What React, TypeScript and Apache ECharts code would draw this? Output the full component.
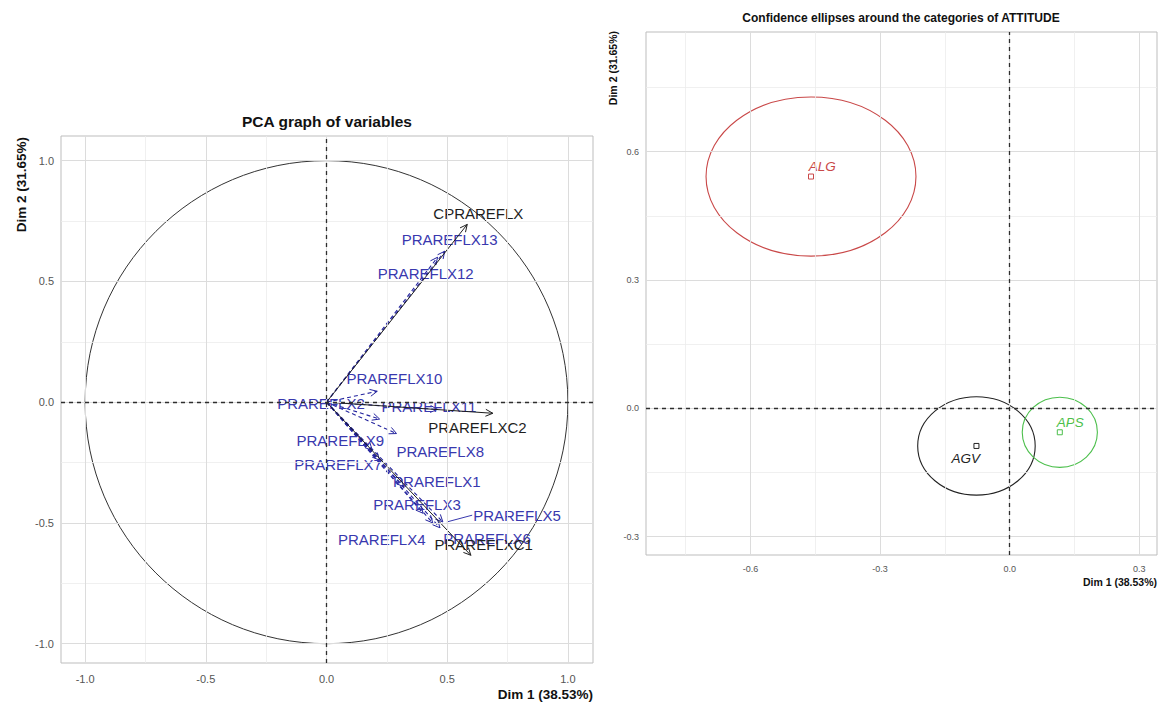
import React, { useEffect, useRef } from "react";
import * as echarts from "echarts";

// ---------- Left panel: PCA graph of variables ----------
const activeNames = ["CPRAREFLX", "PRAREFLXC1", "PRAREFLXC2"];
const activeX = [0.583, 0.598, 0.689];
const activeY = [0.736, -0.634, -0.046];
const activeLabelX = [0.629, 0.651, 0.625];
const activeLabelY = [0.78, -0.588, -0.107];

const suppNames = [
  "PRAREFLX1", "PRAREFLX2", "PRAREFLX3", "PRAREFLX4", "PRAREFLX5", "PRAREFLX6", "PRAREFLX7",
  "PRAREFLX8", "PRAREFLX9", "PRAREFLX10", "PRAREFLX11", "PRAREFLX12", "PRAREFLX13",
];
const suppX = [0.32, 0.22, 0.4, 0.44, 0.482, 0.47, 0.22, 0.29, 0.19, 0.21, 0.46, 0.46, 0.49];
const suppY = [-0.35, -0.07, -0.46, -0.5, -0.496, -0.52, -0.24, -0.13, -0.2, 0.045, -0.03, 0.6, 0.625];
const suppLabelX = [0.457, -0.023, 0.375, 0.229, 0.789, 0.665, 0.048, 0.471, 0.057, 0.281, 0.424, 0.411, 0.51];
const suppLabelY = [-0.33, -0.005, -0.423, -0.569, -0.468, -0.565, -0.257, -0.206, -0.157, 0.1, -0.019, 0.532, 0.672];
const connectorNames = ["PRAREFLX5"];

const circleRadius = 1;
const leftTicks = [-1, -0.5, 0, 0.5, 1];
const leftMinor = [-0.75, -0.25, 0.25, 0.75];

// ---------- Right panel: confidence ellipses ----------
const catNames = ["AGV", "ALG", "APS"];
const catX = [-0.077, -0.46, 0.116];
const catY = [-0.088, 0.542, -0.056];
const ellRadX = [0.136, 0.243, 0.087];
const ellRadY = [0.115, 0.186, 0.082];
const catLabelX = [-0.102, -0.434, 0.14];
const catLabelY = [-0.117, 0.566, -0.033];

const rightXTicks = [-0.6, -0.3, 0, 0.3];
const rightYTicks = [-0.3, 0, 0.3, 0.6];
const rightXMinor = [-0.75, -0.45, -0.15, 0.15];
const rightYMinor = [-0.15, 0.15, 0.45, 0.75];

const FONT = "'Liberation Sans', Arial, sans-serif";
const BLUE = "#3838AE";
const BLUE_LINE = "#24249E";
const BLACK = "#1E1E1E";
const catColors = ["#222222", "#C94848", "#4CBF4C"];

function measure(text: string, size: number) {
  const c = document.createElement("canvas").getContext("2d");
  if (!c) return text.length * size * 0.6;
  c.font = `${size}px ${FONT}`;
  return c.measureText(text).width;
}

function valueAxis(gridIndex: number, min: number, max: number, ticks: number[], fontSize: number, margin: number) {
  return {
    type: "value",
    gridIndex,
    min,
    max,
    axisLine: { show: false },
    axisTick: { show: true, length: 3, lineStyle: { color: "#B3B3B3" }, customValues: ticks },
    axisLabel: {
      customValues: ticks,
      formatter: (v: number) => v.toFixed(1),
      color: "#555555",
      fontSize,
      fontFamily: FONT,
      margin,
    },
    splitLine: { show: false },
  };
}

function gridLines(xi: number, xMajor: number[], xMinor: number[], yMajor: number[], yMinor: number[]) {
  const maj = { color: "#DCDCDC", width: 1, type: "solid" };
  const min = { color: "#ECECEC", width: 0.8, type: "solid" };
  const zero = { color: "#2E2E2E", width: 1.3, type: [4, 4] };
  return {
    type: "scatter",
    xAxisIndex: xi,
    yAxisIndex: xi,
    data: [[0, 0]],
    symbolSize: 0,
    silent: true,
    z: 1,
    markLine: {
      silent: true,
      symbol: ["none", "none"],
      label: { show: false },
      data: [
        ...xMinor.map((v) => ({ xAxis: v, lineStyle: min })),
        ...yMinor.map((v) => ({ yAxis: v, lineStyle: min })),
        ...xMajor.map((v) => ({ xAxis: v, lineStyle: maj })),
        ...yMajor.map((v) => ({ yAxis: v, lineStyle: maj })),
        { xAxis: 0, lineStyle: zero },
        { yAxis: 0, lineStyle: zero },
      ],
    },
  };
}

function arrowSeries(names: string[], xs: number[], ys: number[], lxs: number[], lys: number[], color: string, lineColor: string, dashed: boolean, z: number) {
  return {
    type: "custom",
    xAxisIndex: 0,
    yAxisIndex: 0,
    z,
    silent: true,
    data: names.map((n, i) => [xs[i], ys[i], lxs[i], lys[i]]),
    renderItem: (params: any, api: any) => {
      const o = api.coord([0, 0]);
      const t = api.coord([api.value(0), api.value(1)]);
      const l = api.coord([api.value(2), api.value(3)]);
      const ang = Math.atan2(t[1] - o[1], t[0] - o[0]);
      const L = 8;
      const a = Math.PI / 7;
      const p1 = [t[0] - L * Math.cos(ang - a), t[1] - L * Math.sin(ang - a)];
      const p2 = [t[0] - L * Math.cos(ang + a), t[1] - L * Math.sin(ang + a)];
      const name = names[params.dataIndex];
      const children: any[] = [
        {
          type: "line",
          shape: { x1: o[0], y1: o[1], x2: t[0], y2: t[1] },
          style: { stroke: lineColor, lineWidth: dashed ? 1.1 : 1, lineDash: dashed ? [4, 3] : null },
        },
        {
          type: "polyline",
          shape: { points: [p1, t, p2] },
          style: { stroke: lineColor, fill: "none", lineWidth: 1 },
        },
      ];
      if (connectorNames.indexOf(name) >= 0) {
        const w = measure(name, 15);
        children.push({
          type: "line",
          shape: { x1: t[0] + 4, y1: t[1], x2: l[0] - w / 2 - 1, y2: l[1] },
          style: { stroke: color, lineWidth: 1 },
        });
      }
      children.push({
        type: "text",
        x: l[0],
        y: l[1],
        z2: 10,
        style: {
          text: name,
          fill: color,
          fontSize: 15,
          fontFamily: FONT,
          align: "center",
          verticalAlign: "middle",
          textAlign: "center",
          textVerticalAlign: "middle",
        },
      });
      return { type: "group", children };
    },
  };
}

function titleText(text: string, x: number, y: number, size: number, align: string, rotate = false) {
  return {
    type: "text",
    x,
    y,
    rotation: rotate ? Math.PI / 2 : 0,
    style: {
      text,
      fill: "#111111",
      fontSize: size,
      fontWeight: "bold",
      fontFamily: FONT,
      align,
      verticalAlign: "middle",
      textAlign: align,
      textVerticalAlign: "middle",
    },
  };
}

export default function App() {
  const ref = useRef<HTMLDivElement>(null);
  useEffect(() => {
    if (!ref.current) return;
    const chart = echarts.init(ref.current, null, { renderer: "svg" });
    const option: any = {
      animation: false,
      backgroundColor: "#FFFFFF",
      grid: [
        { left: 61, top: 136, width: 532, height: 527, show: true, borderColor: "#BDBDBD", borderWidth: 1, backgroundColor: "transparent" },
        { left: 646, top: 32, width: 511, height: 523, show: true, borderColor: "#BDBDBD", borderWidth: 1, backgroundColor: "transparent" },
      ],
      xAxis: [
        valueAxis(0, -1.1, 1.104, leftTicks, 11, 10),
        valueAxis(1, -0.842, 0.341, rightXTicks, 9, 9),
      ],
      yAxis: [
        valueAxis(0, -1.08, 1.102, leftTicks, 11, 7),
        valueAxis(1, -0.343, 0.88, rightYTicks, 9, 7),
      ],
      graphic: [
        titleText("PCA graph of variables", 327, 121, 15.5, "center"),
        titleText("Dim 2 (31.65%)", 21, 137, 13.5, "right", true),
        titleText("Dim 1 (38.53%)", 593, 694, 13.5, "right"),
        titleText("Confidence ellipses around the categories of ATTITUDE", 901, 18, 12, "center"),
        titleText("Dim 2 (31.65%)", 613, 31, 10.5, "right", true),
        titleText("Dim 1 (38.53%)", 1157, 582, 10.5, "right"),
      ],
      series: [
        gridLines(0, leftTicks, leftMinor, leftTicks, leftMinor),
        gridLines(1, rightXTicks, rightXMinor, rightYTicks, rightYMinor),
        {
          type: "custom",
          xAxisIndex: 0,
          yAxisIndex: 0,
          z: 2,
          silent: true,
          data: [[0, 0, circleRadius, circleRadius]],
          renderItem: (params: any, api: any) => {
            const c = api.coord([api.value(0), api.value(1)]);
            const s = api.size([api.value(2), api.value(3)]);
            return {
              type: "ellipse",
              shape: { cx: c[0], cy: c[1], rx: s[0], ry: s[1] },
              style: { fill: "none", stroke: "#333333", lineWidth: 1 },
            };
          },
        },
        arrowSeries(suppNames, suppX, suppY, suppLabelX, suppLabelY, BLUE, BLUE_LINE, true, 3),
        arrowSeries(activeNames, activeX, activeY, activeLabelX, activeLabelY, BLACK, BLACK, false, 4),
        {
          type: "custom",
          xAxisIndex: 1,
          yAxisIndex: 1,
          z: 3,
          silent: true,
          data: catNames.map((n, i) => [catX[i], catY[i], ellRadX[i], ellRadY[i], catLabelX[i], catLabelY[i]]),
          renderItem: (params: any, api: any) => {
            const i = params.dataIndex;
            const c = api.coord([api.value(0), api.value(1)]);
            const s = api.size([api.value(2), api.value(3)]);
            const l = api.coord([api.value(4), api.value(5)]);
            const col = catColors[i];
            return {
              type: "group",
              children: [
                {
                  type: "ellipse",
                  shape: { cx: c[0], cy: c[1], rx: s[0], ry: s[1] },
                  style: { fill: "none", stroke: col, lineWidth: 1.1 },
                },
                {
                  type: "rect",
                  shape: { x: c[0] - 2.5, y: c[1] - 2.5, width: 5, height: 5 },
                  style: { fill: "none", stroke: col, lineWidth: 1 },
                },
                {
                  type: "text",
                  x: l[0],
                  y: l[1],
                  style: {
                    text: catNames[i],
                    fill: col,
                    fontSize: 13.5,
                    fontStyle: "italic",
                    fontFamily: FONT,
                    align: "center",
                    verticalAlign: "middle",
                    textAlign: "center",
                    textVerticalAlign: "middle",
                  },
                },
              ],
            };
          },
        },
      ],
    };
    chart.setOption(option);
    return () => chart.dispose();
  }, []);
  return <div ref={ref} style={{ position: "fixed", left: 0, top: 0, width: 1161, height: 704, background: "#fff" }} />;
}
